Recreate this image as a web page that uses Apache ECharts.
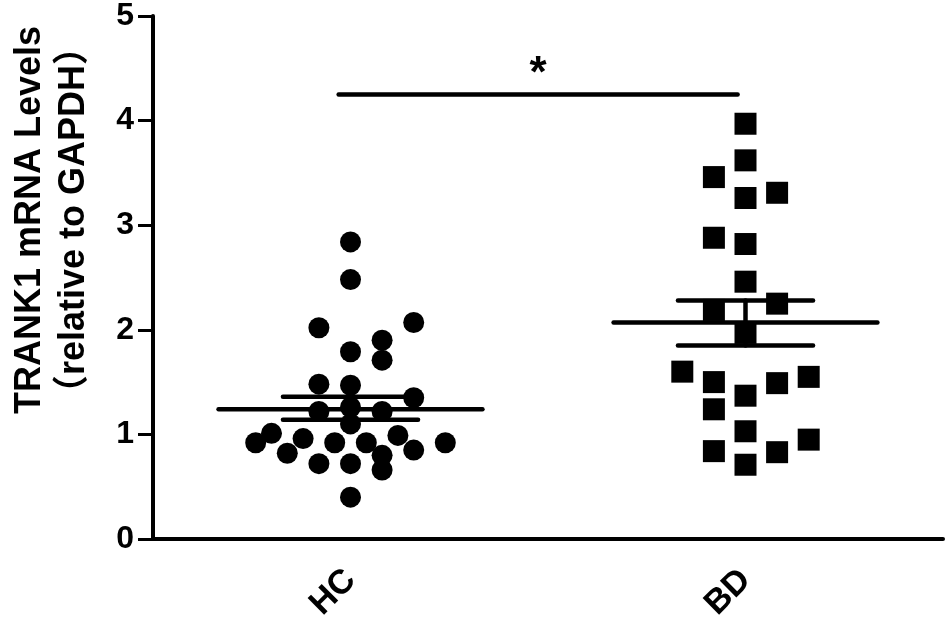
<!DOCTYPE html>
<html>
<head>
<meta charset="utf-8">
<title>TRANK1 mRNA Levels</title>
<script src="https://cdn.jsdelivr.net/npm/echarts@6/dist/echarts.min.js"></script>
<style>
  html, body { margin: 0; padding: 0; background: #fff; }
  #main { width: 945px; height: 635px; }
</style>
</head>
<body>
<div id="main"></div>
<script>
// groups on the x axis
var categories = ['HC', 'BD'];
var yTicks = [0, 1, 2, 3, 4, 5];

// HC (circles): horizontal jitter (in category units) and value
var hcJitter = [0, 0, -0.08, 0.16, 0, 0.08, 0.08, -0.08, 0, 0.16, -0.08, 0.08, 0, 0,
  -0.20, -0.24, -0.12, -0.16, -0.04, 0.04, 0.12, 0.16, 0.24, -0.08, 0, 0.08, 0.08, 0];
var hcValues = [2.84, 2.48, 2.02, 2.07, 1.79, 1.90, 1.71, 1.48, 1.47, 1.35, 1.22, 1.22, 1.26, 1.10,
  1.01, 0.92, 0.96, 0.82, 0.92, 0.92, 0.99, 0.85, 0.92, 0.72, 0.72, 0.80, 0.66, 0.40];

// BD (squares)
var bdJitter = [0, 0, -0.08, 0, 0.08, -0.08, 0, 0, 0.08, -0.08, 0,
  -0.16, -0.08, 0, 0.08, 0.16, -0.08, 0, -0.08, 0, 0.08, 0.16];
var bdValues = [3.97, 3.62, 3.46, 3.26, 3.31, 2.88, 2.82, 2.46, 2.25, 2.19, 1.97,
  1.60, 1.50, 1.37, 1.49, 1.55, 1.24, 1.03, 0.84, 0.71, 0.83, 0.95];

// mean and SEM
var means = [1.24, 2.07];
var semLow = [1.14, 1.85];
var semHigh = [1.36, 2.28];

// significance bar
var sigFrom = 0.97, sigTo = 1.98, sigLevel = 4.25, sigMark = '*';

var FONT = '"Liberation Sans", Arial, "Noto Sans CJK SC", sans-serif';

function points(jitter, values, group) {
  var out = [];
  for (var i = 0; i < values.length; i++) {
    out.push([group + 1 + jitter[i], values[i]]);
  }
  return out;
}

var statData = [];
for (var g = 0; g < categories.length; g++) {
  statData.push([g + 1, means[g], semLow[g], semHigh[g]]);
}

var chart = echarts.init(document.getElementById('main'), null, { renderer: 'canvas' });

var option = {
  backgroundColor: '#ffffff',
  animation: false,
  grid: { left: 153, right: 2, top: 16, bottom: 96, containLabel: false },
  graphic: [{
    type: 'text',
    x: 52,
    y: 220,
    rotation: Math.PI / 2,
    style: {
      text: 'TRANK1 mRNA Levels\n（relative to GAPDH）',
      font: 'bold 36px ' + FONT,
      fill: '#000',
      align: 'center',
      verticalAlign: 'middle',
      lineHeight: 44
    }
  }],
  xAxis: [{
    type: 'category',
    data: categories,
    boundaryGap: true,
    axisLine: { lineStyle: { color: '#000', width: 4 } },
    axisTick: { alignWithLabel: true, length: 15, lineStyle: { color: '#000', width: 3 } },
    axisLabel: {
      rotate: 45,
      margin: 36,
      color: '#000',
      fontSize: 34,
      fontWeight: 'bold',
      fontFamily: FONT
    },
    splitLine: { show: false }
  }, {
    type: 'value',
    min: 0.5,
    max: 2.5,
    show: false
  }],
  yAxis: {
    type: 'value',
    min: yTicks[0],
    max: yTicks[yTicks.length - 1],
    interval: 1,
    axisLine: { show: true, lineStyle: { color: '#000', width: 4 } },
    axisTick: { show: true, length: 15, lineStyle: { color: '#000', width: 3 } },
    axisLabel: {
      margin: 19,
      color: '#000',
      fontSize: 32,
      fontWeight: 'bold',
      fontFamily: FONT
    },
    splitLine: { show: false }
  },
  series: [{
    name: 'HC',
    type: 'scatter',
    xAxisIndex: 1,
    symbol: 'circle',
    symbolSize: 21,
    itemStyle: { color: '#000', opacity: 1 },
    data: points(hcJitter, hcValues, 0),
    z: 2
  }, {
    name: 'BD',
    type: 'scatter',
    xAxisIndex: 1,
    symbol: 'rect',
    symbolSize: 22,
    itemStyle: { color: '#000', opacity: 1 },
    data: points(bdJitter, bdValues, 1),
    z: 2
  }, {
    // mean line with SEM bars
    type: 'custom',
    xAxisIndex: 1,
    encode: { x: 0, y: [1, 2, 3] },
    data: statData,
    z: 3,
    renderItem: function (params, api) {
      var x = api.value(0);
      var mean = api.value(1), lo = api.value(2), hi = api.value(3);
      var mHalf = 0.334, sHalf = 0.171;
      var style = { stroke: '#000', lineWidth: 4.5, lineCap: 'round' };
      function seg(x1, x2, y) {
        var a = api.coord([x1, y]);
        var b = api.coord([x2, y]);
        return { type: 'line', shape: { x1: a[0], y1: a[1], x2: b[0], y2: b[1] }, style: style };
      }
      var top = api.coord([x, hi]);
      var bot = api.coord([x, lo]);
      return {
        type: 'group',
        children: [
          seg(x - mHalf, x + mHalf, mean),
          seg(x - sHalf, x + sHalf, lo),
          seg(x - sHalf, x + sHalf, hi),
          { type: 'line', shape: { x1: top[0], y1: top[1], x2: bot[0], y2: bot[1] }, style: style }
        ]
      };
    }
  }, {
    // significance bracket
    type: 'custom',
    xAxisIndex: 1,
    data: [[sigFrom, sigTo, sigLevel]],
    z: 3,
    renderItem: function (params, api) {
      var a = api.coord([api.value(0), api.value(2)]);
      var b = api.coord([api.value(1), api.value(2)]);
      return {
        type: 'group',
        children: [{
          type: 'line',
          shape: { x1: a[0], y1: a[1], x2: b[0], y2: b[1] },
          style: { stroke: '#000', lineWidth: 4.5, lineCap: 'round' }
        }, {
          type: 'text',
          x: (a[0] + b[0]) / 2,
          y: a[1] + 2,
          style: {
            text: sigMark,
            font: 'bold 44px ' + FONT,
            fill: '#000',
            align: 'center',
            verticalAlign: 'bottom'
          }
        }]
      };
    }
  }]
};

chart.setOption(option);
window.addEventListener('resize', function () {
  chart.resize();
});
</script>
</body>
</html>
